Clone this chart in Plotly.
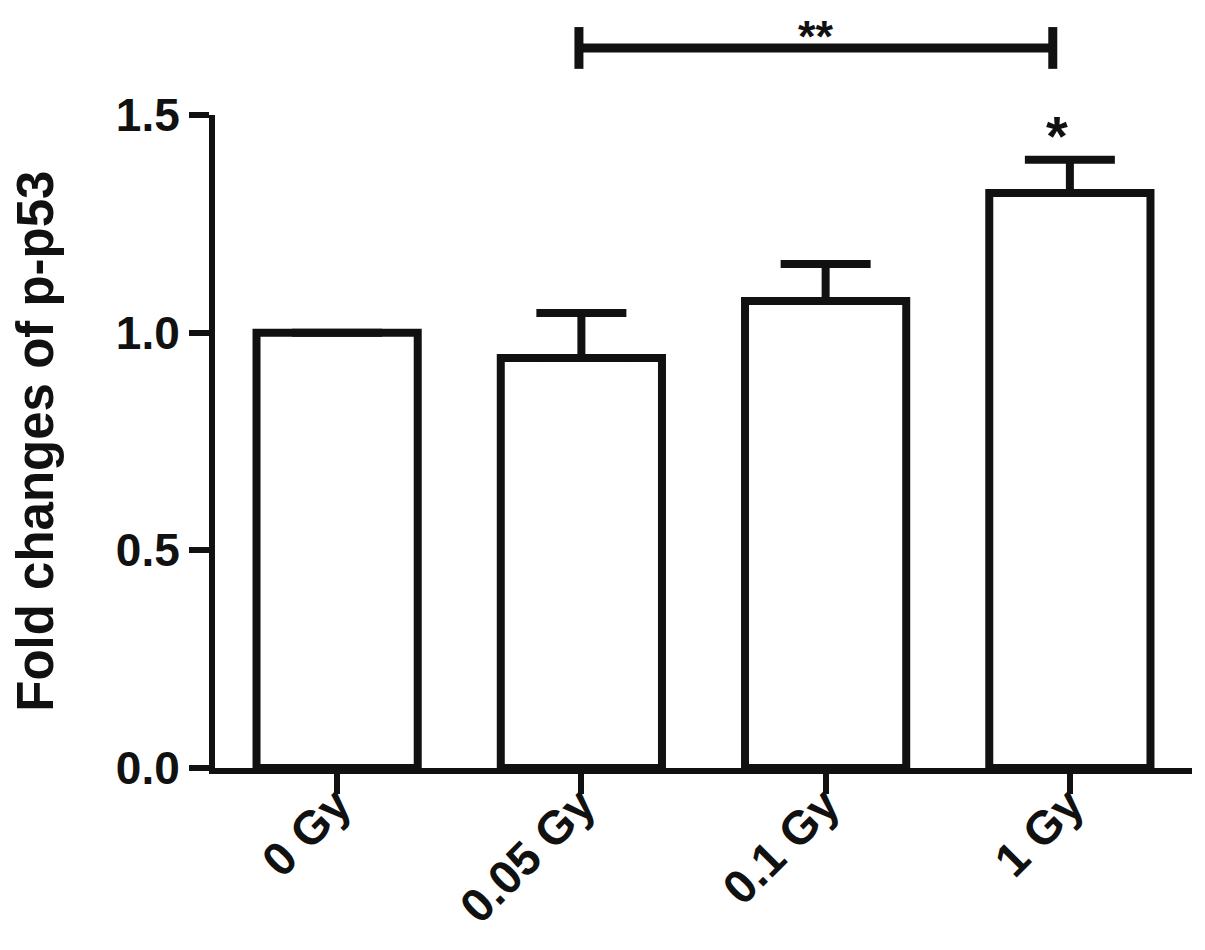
import plotly.graph_objects as go

categories = ["0 Gy", "0.05 Gy", "0.1 Gy", "1 Gy"]
means = [1.0, 0.942, 1.073, 1.321]
errors_up = [None, 0.103, 0.085, 0.076]
errors_down = [0, 0, 0, 0]
y_ticks = [0.0, 0.5, 1.0, 1.5]
y_tick_labels = ["0.0", "0.5", "1.0", "1.5"]
star_label = "*"
bracket_label = "**"
bracket_from, bracket_to, bracket_level = 0.99, 2.93, 1.654
star_level = 1.452
bracket_label_level = 1.68
y_title = "Fold changes of p-p53"

XMIN, XMAX = -0.5, 3.5
YMIN, YMAX = 0.0, 1.5
FONT = "Liberation Sans, Arial, sans-serif"
INK = "#111111"
W, H = 1197, 942
M = dict(l=207, r=13, t=107, b=182)

def px(x):
    return (x - XMIN) / (XMAX - XMIN)

def py(y):
    return (y - YMIN) / (YMAX - YMIN)

fig = go.Figure()
fig.add_trace(go.Bar(
    x=list(range(len(categories))),
    y=means,
    width=0.66,
    marker=dict(color="white", line=dict(color=INK, width=8)),
    error_y=dict(type="data", symmetric=False, array=errors_up, arrayminus=errors_down,
                 color=INK, thickness=8, width=45),
    cliponaxis=False,
))

shape_line = dict(color=INK, width=9)
fig.add_shape(type="line", xref="paper", yref="paper",
              x0=px(bracket_from), x1=px(bracket_to),
              y0=py(bracket_level), y1=py(bracket_level), line=shape_line)
for xb in (bracket_from, bracket_to):
    fig.add_shape(type="line", xref="paper", yref="paper",
                  x0=px(xb), x1=px(xb),
                  y0=py(bracket_level - 0.048), y1=py(bracket_level + 0.048), line=shape_line)

fig.add_annotation(xref="paper", yref="paper", x=px((bracket_from + bracket_to) / 2),
                   y=py(bracket_label_level), text=bracket_label, showarrow=False,
                   font=dict(family=FONT, size=45, color=INK, weight="bold"),
                   yanchor="middle", borderpad=0)
fig.add_annotation(xref="paper", yref="paper", x=px(3), y=py(star_level),
                   text=star_label, showarrow=False,
                   font=dict(family=FONT, size=56, color=INK, weight="bold"),
                   yanchor="middle")

# y-axis title as rotated annotation
fig.add_annotation(xref="paper", yref="paper", x=-0.184, y=0.5,
                   text=y_title, textangle=-90, showarrow=False,
                   xanchor="center", yanchor="middle", borderpad=0,
                   font=dict(family=FONT, size=51, color=INK, weight="bold"))

fig.update_layout(
    width=W, height=H,
    margin=dict(**M, autoexpand=False),
    paper_bgcolor="white", plot_bgcolor="white",
    showlegend=False,
    font=dict(family=FONT, color=INK),
)
fig.update_xaxes(
    range=[XMIN, XMAX], automargin=False,
    tickmode="array", tickvals=list(range(len(categories))), ticktext=categories,
    tickangle=-45, ticklabelstandoff=-36,
    tickfont=dict(family=FONT, size=47, color=INK, weight="bold"),
    showline=True, linecolor=INK, linewidth=6,
    ticks="outside", ticklen=20, tickwidth=6, tickcolor=INK,
    showgrid=False, zeroline=False,
)
fig.update_yaxes(
    range=[YMIN, YMAX], automargin=False,
    tickmode="array", tickvals=y_ticks, ticktext=y_tick_labels,
    tickfont=dict(family=FONT, size=46, color=INK, weight="bold"),
    showline=True, linecolor=INK, linewidth=6,
    ticks="outside", ticklen=20, tickwidth=6, tickcolor=INK,
    showgrid=False, zeroline=False,
)

fig.write_html("out.html")
